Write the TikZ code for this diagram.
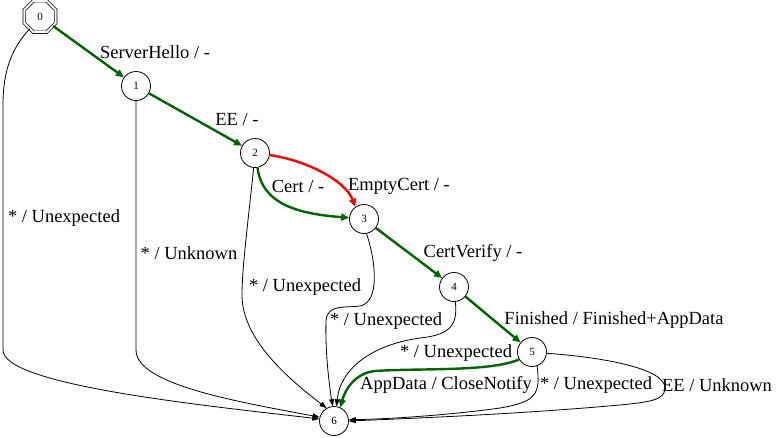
\documentclass[tikz,border=0pt]{standalone}
\usepackage{fontspec}
\setmainfont{Liberation Serif}
\usetikzlibrary{arrows.meta,shapes.geometric}
\definecolor{dgreen}{RGB}{0,100,0}
\begin{document}
\begin{tikzpicture}[x=1pt,y=-1pt,
  st/.style={circle,draw,line width=0.8pt,minimum size=29pt,inner sep=0pt,font=\fontsize{11}{12}\selectfont},
  lbl/.style={inner sep=0pt,font=\fontsize{18.5}{20}\selectfont},
  tr/.style={-{Triangle[length=7pt,width=5pt]},line width=0.8pt},
  ok/.style={dgreen,line width=2.4pt,-{Triangle[length=8pt,width=7pt]}},
  bad/.style={ok,red}]
\useasboundingbox (0,0) rectangle (777,437);
% states
\node[regular polygon,regular polygon sides=8,draw,double,double distance=2pt,line width=0.7pt,
      minimum size=34pt,inner sep=0pt,font=\fontsize{11}{12}\selectfont] (n0) at (40,16.5) {0};
\node[st] (n1) at (136,86) {1};
\node[st] (n2) at (255,153) {2};
\node[st] (n3) at (364,219) {3};
\node[st] (n4) at (454,287) {4};
\node[st] (n5) at (532,352) {5};
\node[st] (n6) at (334,421) {6};
% happy path
\draw[ok] (n0) -- (n1);
\draw[ok] (n1) -- (n2);
\draw[bad] (n2.-8) .. controls (305,160) and (345,180) .. (n3.125);
\draw[ok] (n2.-80) .. controls (262,205) and (300,214) .. (n3.175);
\draw[ok] (n3) -- (n4);
\draw[ok] (n4) -- (n5);
\draw[ok] (n5.-150) .. controls (490,372) and (420,368) .. (375,371)
                    .. controls (355,373) and (345,390) .. (n6.65);
% error edges
\draw[tr] (n0.-130) .. controls (12,48) and (3,70) .. (3,105) -- (3,350)
          .. controls (3,385) and (200,405) .. (n6.172);
\draw[tr] (n1.-90) -- (136,350) .. controls (136,385) and (240,402) .. (n6.165);
\draw[tr] (n2.-95) .. controls (247,230) and (242,270) .. (242,295)
          .. controls (242,340) and (290,380) .. (n6.120);
\draw[tr] (n3.-80) .. controls (376,262) and (380,302) .. (360,306)
          .. controls (345,308) and (328,304) .. (326,320)
          .. controls (325,355) and (330,390) .. (n6.95);
\draw[tr] (n4.-85) .. controls (458,325) and (450,335) .. (420,338)
          .. controls (370,345) and (340,370) .. (n6.80);
\draw[tr] (n5.-70) .. controls (541,395) and (535,402) .. (500,408)
          .. controls (450,415) and (390,419) .. (n6.5);
\draw[tr] (n5.-5) .. controls (600,357) and (665,368) .. (665,388)
          .. controls (665,400) and (650,402) .. (620,405)
          .. controls (520,414) and (420,418) .. (n6.0);
% labels
\node[lbl] (l01) at (155,52) {ServerHello / -};
\node[lbl] (l12) at (237,119) {EE / -};
\node[lbl] (l23r) at (399,186) {EmptyCert / -};
\node[lbl] (l23g) at (298,186) {Cert / -};
\node[lbl] (l34) at (473,253) {CertVerify / -};
\node[lbl] (l45) at (614,320) {Finished / Finished+AppData};
\node[lbl] (l06) at (64,218) {* / Unexpected};
\node[lbl] (l16) at (189,253) {* / Unknown};
\node[lbl] (l26) at (305,287) {* / Unexpected};
\node[lbl] (l36) at (386,321) {* / Unexpected};
\node[lbl] (l46) at (456,353) {* / Unexpected};
\node[lbl] (l56g) at (446,385) {AppData / CloseNotify};
\node[lbl] (l56a) at (596,385) {* / Unexpected};
\node[lbl] (l56b) at (717,385) {EE / Unknown};
\end{tikzpicture}
\end{document}
